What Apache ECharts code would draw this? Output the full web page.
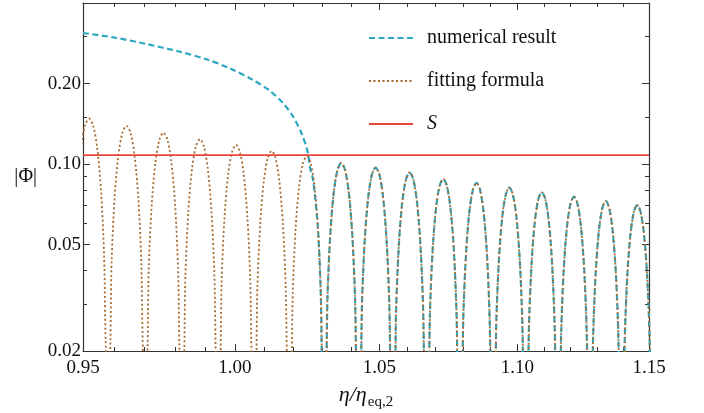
<!DOCTYPE html>
<html>
<head>
<meta charset="utf-8">
<script src="https://cdn.jsdelivr.net/npm/echarts@6/dist/echarts.min.js"></script>
<style>
html,body{margin:0;padding:0;background:#fff;}
#chart{width:704px;height:413px;}
</style>
</head>
<body>
<div id="chart"></div>
<script>
// ---- data ----
const xMajorTicks = [0.95, 1.00, 1.05, 1.10, 1.15];
const xMinorTicks = [0.96, 0.97, 0.98, 0.99, 1.01, 1.02, 1.03, 1.04, 1.06, 1.07, 1.08, 1.09, 1.11, 1.12, 1.13, 1.14];
const yMajorTicks = [0.02, 0.05, 0.10, 0.20];
const yMinorTicks = [0.03, 0.04, 0.06, 0.07, 0.08, 0.09, 0.15, 0.3];

const sLevel = 0.108;

// numerical result: smooth branch before it joins the oscillation
const numericalHead = [
  [0.9500, 0.309], [0.95967, 0.2977], [0.97056, 0.2810], [0.98154, 0.2630], [0.99043, 0.2464],
  [0.99825, 0.2280], [1.00614, 0.2061], [1.01183, 0.1880], [1.01639, 0.1687], [1.01982, 0.1503],
  [1.02272, 0.1303], [1.02500, 0.1097], [1.02559, 0.0977], [1.02673, 0.0872]
];

// fitting formula: oscillating arches
const fittingFormula = [
  [0.94638,0.0185],[0.94711,0.0457],[0.94808,0.0793],[0.94929,0.1140],[0.95062,0.1392],[0.95195,0.148],[0.95327,0.1392],[0.95460,0.1140],[0.95581,0.0793],[0.95678,0.0457],[0.95751,0.0185],
  [0.95848,0.0174],[0.95921,0.0430],[0.96018,0.0745],[0.96139,0.1071],[0.96272,0.1308],[0.96405,0.139],[0.96537,0.1308],[0.96670,0.1071],[0.96791,0.0745],[0.96888,0.0430],[0.96961,0.0174],
  [0.97058,0.0164],[0.97131,0.0405],[0.97228,0.0702],[0.97349,0.1009],[0.97482,0.1232],[0.97615,0.131],[0.97747,0.1232],[0.97880,0.1009],[0.98001,0.0702],[0.98098,0.0405],[0.98171,0.0164],
  [0.98268,0.0155],[0.98341,0.0383],[0.98438,0.0664],[0.98559,0.0955],[0.98692,0.1167],[0.98825,0.124],[0.98957,0.1167],[0.99090,0.0955],[0.99211,0.0664],[0.99308,0.0383],[0.99381,0.0155],
  [0.99478,0.0148],[0.99551,0.0365],[0.99648,0.0632],[0.99769,0.0909],[0.99902,0.1110],[1.00035,0.118],[1.00167,0.1110],[1.00300,0.0909],[1.00421,0.0632],[1.00518,0.0365],[1.00591,0.0148],
  [1.00688,0.0140],[1.00761,0.0346],[1.00858,0.0600],[1.00979,0.0863],[1.01112,0.1054],[1.01245,0.112],[1.01377,0.1054],[1.01510,0.0863],[1.01631,0.0600],[1.01728,0.0346],[1.01801,0.0140],
  [1.01898,0.0134],[1.01971,0.0331],[1.02068,0.0573],[1.02189,0.0824],[1.02322,0.1007],[1.02455,0.107],[1.02587,0.1007],[1.02720,0.0824],[1.02841,0.0573],[1.02938,0.0331],[1.03011,0.0134],
  [1.03098,0.0127],[1.03171,0.0312],[1.03268,0.0541],[1.03389,0.0778],[1.03522,0.0950],[1.03655,0.101],[1.03787,0.0950],[1.03920,0.0778],[1.04041,0.0541],[1.04138,0.0312],[1.04211,0.0127],
  [1.04308,0.0122],[1.04381,0.0300],[1.04478,0.0520],[1.04599,0.0747],[1.04732,0.0913],[1.04865,0.097],[1.04997,0.0913],[1.05130,0.0747],[1.05251,0.0520],[1.05348,0.0300],[1.05421,0.0122],
  [1.05518,0.0117],[1.05591,0.0287],[1.05688,0.0498],[1.05809,0.0717],[1.05942,0.0875],[1.06075,0.093],[1.06207,0.0875],[1.06340,0.0717],[1.06461,0.0498],[1.06558,0.0287],[1.06631,0.0117],
  [1.06728,0.0110],[1.06801,0.0272],[1.06898,0.0472],[1.07019,0.0678],[1.07152,0.0828],[1.07285,0.088],[1.07417,0.0828],[1.07550,0.0678],[1.07671,0.0472],[1.07768,0.0272],[1.07841,0.0110],
  [1.07938,0.0107],[1.08011,0.0263],[1.08108,0.0455],[1.08229,0.0655],[1.08362,0.0800],[1.08495,0.085],[1.08627,0.0800],[1.08760,0.0655],[1.08881,0.0455],[1.08978,0.0263],[1.09051,0.0107],
  [1.09148,0.0102],[1.09221,0.0252],[1.09318,0.0437],[1.09439,0.0629],[1.09572,0.0768],[1.09705,0.0816],[1.09837,0.0768],[1.09970,0.0629],[1.10091,0.0437],[1.10188,0.0252],[1.10261,0.0102],
  [1.10358,0.0098],[1.10431,0.0242],[1.10528,0.0420],[1.10649,0.0604],[1.10782,0.0738],[1.10915,0.0784],[1.11047,0.0738],[1.11180,0.0604],[1.11301,0.0420],[1.11398,0.0242],[1.11471,0.0098],
  [1.11568,0.0095],[1.11641,0.0233],[1.11738,0.0405],[1.11859,0.0582],[1.11992,0.0710],[1.12125,0.0755],[1.12257,0.0710],[1.12390,0.0582],[1.12511,0.0405],[1.12608,0.0233],[1.12681,0.0095],
  [1.12778,0.0091],[1.12851,0.0225],[1.12948,0.0390],[1.13069,0.0560],[1.13202,0.0684],[1.13335,0.0727],[1.13467,0.0684],[1.13600,0.0560],[1.13721,0.0390],[1.13818,0.0225],[1.13891,0.0091],
  [1.13988,0.0088],[1.14061,0.0217],[1.14158,0.0377],[1.14279,0.0542],[1.14412,0.0661],[1.14545,0.0703],[1.14677,0.0661],[1.14810,0.0542],[1.14931,0.0377],[1.15028,0.0217],[1.15101,0.0088]
];

// after the crossing the numerical result coincides with the fitting formula
const numericalResult = numericalHead.concat(fittingFormula.filter(p => p[0] > 1.0278));
const sLine = [[0.95, sLevel], [1.15, sLevel]];

// ---- chart ----
const FONT = 'Liberation Serif';
const AX = '#333';
const CYAN = '#2aa8c2';
const BROWN = '#a8692e';
const RED = '#e5473b';

function baseAxis(extra) {
  return Object.assign({
    type: 'log', logBase: 10, splitLine: {show: false}, minorTick: {show: false},
    axisLine: {show: false, onZero: false, lineStyle: {color: AX, width: 1.2}},
    axisLabel: {show: false},
    axisTick: {show: true, inside: true, length: 7, lineStyle: {color: AX, width: 1}}
  }, extra);
}

const chart = echarts.init(document.getElementById('chart'), null, {renderer: 'canvas'});
chart.setOption({
  animation: false,
  backgroundColor: '#fff',
  grid: {left: 83, top: 3, width: 566, height: 348, outerBoundsMode: 'none'},
  legend: {
    left: 368, top: 28, orient: 'vertical', padding: 0,
    itemWidth: 44, itemHeight: 14, itemGap: 23,
    data: ['numerical result', 'fitting formula', 'S'],
    itemStyle: {opacity: 0, borderWidth: 0},
    lineStyle: {opacity: 1},
    formatter: n => n === 'S' ? '{i|S}' : '{t|' + n + '}',
    textStyle: {
      fontFamily: FONT, fontSize: 20, color: '#111',
      rich: {
        t: {fontFamily: FONT, fontSize: 20, color: '#111', padding: [0, 0, 0, 9]},
        i: {fontFamily: FONT, fontSize: 20, color: '#111', fontStyle: 'italic', padding: [0, 0, 0, 9]}
      }
    }
  },
  xAxis: [
    baseAxis({
      position: 'bottom', min: 0.95, max: 1.15,
      axisLine: {show: true, onZero: false, lineStyle: {color: AX, width: 1.2}},
      axisTick: {show: true, inside: true, length: 7, customValues: xMajorTicks, lineStyle: {color: AX, width: 1}},
      axisLabel: {show: true, customValues: xMajorTicks, margin: 8, fontFamily: FONT, fontSize: 19, color: '#111',
        formatter: v => Number(v).toFixed(2)},
      name: '{i|η/η}{s|eq,2}', nameLocation: 'middle', nameGap: 33,
      nameTextStyle: {
        fontFamily: FONT, fontSize: 22, color: '#111',
        rich: {
          i: {fontFamily: FONT, fontSize: 22, fontStyle: 'italic', color: '#111', lineHeight: 24, verticalAlign: 'top'},
          s: {fontFamily: FONT, fontSize: 15, color: '#111', lineHeight: 15, verticalAlign: 'top', padding: [11, 0, 0, 1]}
        }
      }
    }),
    baseAxis({position: 'bottom', min: 0.95, max: 1.15,
      axisTick: {show: true, inside: true, length: 4, customValues: xMinorTicks, lineStyle: {color: AX, width: 1}}}),
    baseAxis({position: 'top', min: 0.95, max: 1.15,
      axisLine: {show: true, onZero: false, lineStyle: {color: AX, width: 1.2}},
      axisTick: {show: true, inside: true, length: 7, customValues: xMajorTicks, lineStyle: {color: AX, width: 1}}}),
    baseAxis({position: 'top', min: 0.95, max: 1.15,
      axisTick: {show: true, inside: true, length: 4, customValues: xMinorTicks, lineStyle: {color: AX, width: 1}}})
  ],
  yAxis: [
    baseAxis({
      position: 'left', min: 0.02, max: 0.4,
      axisLine: {show: true, onZero: false, lineStyle: {color: AX, width: 1.2}},
      axisTick: {show: true, inside: true, length: 7, customValues: yMajorTicks, lineStyle: {color: AX, width: 1}},
      axisLabel: {show: true, customValues: yMajorTicks, margin: 2, fontFamily: FONT, fontSize: 19, color: '#111',
        formatter: v => Number(v).toFixed(2)},
      name: '|Φ|', nameLocation: 'middle', nameRotate: 0, nameGap: 46,
      nameTextStyle: {fontFamily: FONT, fontSize: 20, color: '#111'}
    }),
    baseAxis({position: 'left', min: 0.02, max: 0.4,
      axisTick: {show: true, inside: true, length: 4, customValues: yMinorTicks, lineStyle: {color: AX, width: 1}}}),
    baseAxis({position: 'right', min: 0.02, max: 0.4,
      axisLine: {show: true, onZero: false, lineStyle: {color: AX, width: 1.2}},
      axisTick: {show: true, inside: true, length: 7, customValues: yMajorTicks, lineStyle: {color: AX, width: 1}}}),
    baseAxis({position: 'right', min: 0.02, max: 0.4,
      axisTick: {show: true, inside: true, length: 4, customValues: yMinorTicks, lineStyle: {color: AX, width: 1}}})
  ],
  series: [
    {name: 'numerical result', type: 'line', data: numericalResult, symbol: 'none', showSymbol: false, clip: true,
      smooth: 0.3,
      xAxisIndex: 0, yAxisIndex: 0, itemStyle: {color: CYAN},
      lineStyle: {color: CYAN, width: 2.2, type: [6, 3.5]}},
    {name: 'fitting formula', type: 'line', data: fittingFormula, symbol: 'none', showSymbol: false, clip: true,
      smooth: 0.3,
      xAxisIndex: 0, yAxisIndex: 0, itemStyle: {color: BROWN},
      lineStyle: {color: BROWN, width: 1.8, type: [2, 2.5]}},
    {name: 'S', type: 'line', data: sLine, symbol: 'none', showSymbol: false, clip: true,
      xAxisIndex: 0, yAxisIndex: 0, itemStyle: {color: RED},
      lineStyle: {color: RED, width: 1.6}}
  ]
});
</script>
</body>
</html>
